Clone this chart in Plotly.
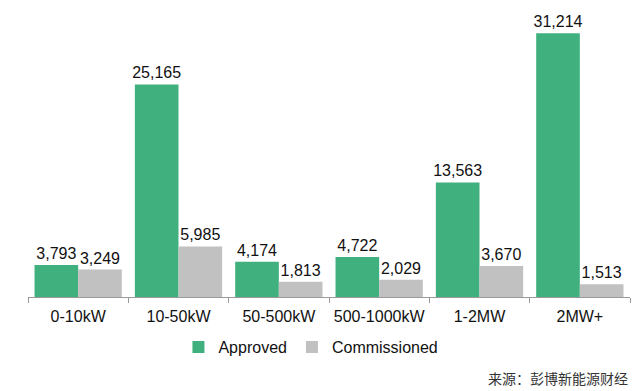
import plotly.graph_objects as go

categories = ["0-10kW", "10-50kW", "50-500kW", "500-1000kW", "1-2MW", "2MW+"]
approved = [3793, 25165, 4174, 4722, 13563, 31214]
commissioned = [3249, 5985, 1813, 2029, 3670, 1513]

def fmt(v):
    return f"{v:,}"

FONT = "Liberation Sans, Arial"

fig = go.Figure()
fig.add_trace(go.Bar(
    x=categories, y=approved, name="Approved",
    marker=dict(color="#3fb07e", line=dict(width=0)),
    text=[fmt(v) for v in approved], textposition="outside",
    textfont=dict(family=FONT, size=16, color="#111"),
    cliponaxis=False, constraintext="none",
))
fig.add_trace(go.Bar(
    x=categories, y=commissioned, name="Commissioned",
    marker=dict(color="#c2c1c2", line=dict(width=0)),
    text=[fmt(v) for v in commissioned], textposition="outside",
    textfont=dict(family=FONT, size=16, color="#111"),
    cliponaxis=False, constraintext="none",
))

fig.update_layout(
    width=640, height=391,
    margin=dict(l=28, r=10, t=14, b=94, autoexpand=False),
    paper_bgcolor="white", plot_bgcolor="white",
    barmode="group", bargap=0.13, bargroupgap=0,
    font=dict(family=FONT, size=16, color="#111"),
    showlegend=True,
    legend=dict(orientation="h", x=0.47, xanchor="center", y=-0.177, yanchor="middle",
                font=dict(size=16), itemwidth=30, traceorder="normal"),
)
fig.update_xaxes(
    showline=True, linecolor="#9a9a9a", linewidth=1,
    ticks="outside", tickson="boundaries", ticklen=5, tickcolor="#9a9a9a",
    tickfont=dict(size=16, color="#111"), tickangle=0, ticklabelstandoff=5,
    showgrid=False,
)
fig.update_yaxes(range=[0, 33500], visible=False, showgrid=False)

fig.add_annotation(
    text="来源：彭博新能源财经", xref="paper", yref="paper",
    x=1.0, y=-0.286, xanchor="right", yanchor="middle", showarrow=False,
    font=dict(family="Noto Sans CJK SC", size=14, color="#333"),
)

fig.write_html(
    "out.html",
    config={"displayModeBar": False},
    post_script="document.body.style.margin='0';document.body.style.padding='0';",
)
